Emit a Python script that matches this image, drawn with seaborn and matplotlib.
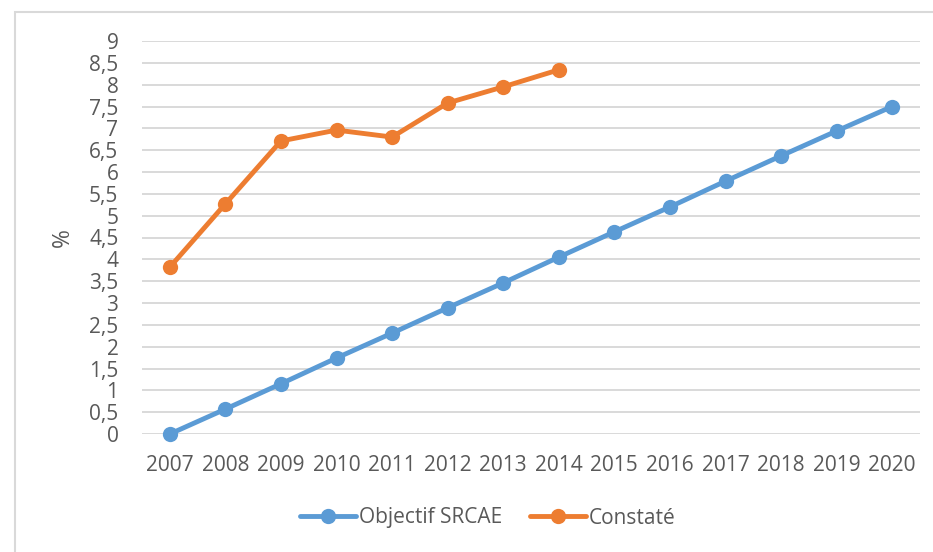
import matplotlib
matplotlib.use("Agg")
import matplotlib.pyplot as plt
from matplotlib.patches import Rectangle
import numpy as np
import pandas as pd
import seaborn as sns

years = [2007, 2008, 2009, 2010, 2011, 2012, 2013, 2014,
         2015, 2016, 2017, 2018, 2019, 2020]
objectif = [0.0, 0.57, 1.15, 1.74, 2.31, 2.89, 3.46, 4.05,
            4.63, 5.20, 5.79, 6.37, 6.94, 7.50]
constate_years = [2007, 2008, 2009, 2010, 2011, 2012, 2013, 2014]
constate = [3.82, 5.27, 6.71, 6.96, 6.80, 7.58, 7.95, 8.34]
series_names = ["Objectif SRCAE", "Constaté"]
colors = ["#5B9BD5", "#ED7D31"]
y_ticks = [0, 0.5, 1, 1.5, 2, 2.5, 3, 3.5, 4, 4.5, 5, 5.5, 6, 6.5, 7, 7.5, 8, 8.5, 9]

df = pd.concat([
    pd.DataFrame({"Année": years, "Valeur": objectif, "Série": series_names[0]}),
    pd.DataFrame({"Année": constate_years, "Valeur": constate, "Série": series_names[1]}),
], ignore_index=True)

sns.set_theme(style="white")
plt.rcParams["font.family"] = ["Open Sans", "DejaVu Sans"]
text_color = "#595959"
fs = 15

fig = plt.figure(figsize=(9.33, 5.52), dpi=100)
ax = fig.add_axes([142 / 933, 1 - 434 / 552, (920 - 142) / 933, (434 - 41) / 552])

sns.lineplot(data=df, x="Année", y="Valeur", hue="Série",
             palette=dict(zip(series_names, colors)),
             marker="o", markersize=11, markeredgewidth=0,
             linewidth=3.5, ax=ax, legend=False, zorder=3)

ax.set_xlim(years[0] - 0.5, years[-1] + 0.5)
ax.set_ylim(0, 9)
ax.set_xticks(years)
ax.set_xticklabels([str(y) for y in years])
ax.set_yticks(y_ticks)
ax.set_yticklabels([("%g" % v).replace(".", ",") for v in y_ticks])
ax.grid(axis="y", color="#D9D9D9", linewidth=1.4, zorder=0)
ax.set_axisbelow(True)
for s in ax.spines.values():
    s.set_visible(False)
ax.tick_params(axis="both", length=0, labelsize=fs, labelcolor=text_color)
ax.tick_params(axis="y", pad=17)
ax.tick_params(axis="x", pad=15)
ax.set_xlabel("")
ax.set_ylabel("%", fontsize=16.5, color=text_color, labelpad=10)
for line in ax.lines:
    line.set_clip_on(False)

# Legend below the plot area
handles = [plt.Line2D([], [], color=c, linewidth=3.5, marker="o", markersize=11,
                      markeredgewidth=0) for c in colors]
fig.legend(handles, series_names, loc="center", bbox_to_anchor=(488 / 933, 1 - 518 / 552),
           ncol=2, frameon=False, fontsize=fs, handlelength=2.7,
           handletextpad=0.15, columnspacing=1.3, labelcolor=text_color)

# Chart area outline
fig.patches.append(Rectangle((15 / 933, -0.1), 1.2, 1 - 12 / 552 + 0.1,
                             transform=fig.transFigure, fill=False,
                             edgecolor="#D9D9D9", linewidth=1.5))

fig.savefig("out.png", dpi=100)
